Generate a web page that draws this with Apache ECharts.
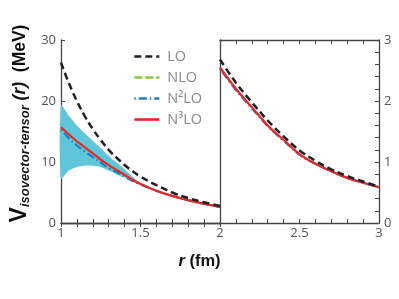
<!DOCTYPE html>
<html><head><meta charset="utf-8">
<script src="https://cdn.jsdelivr.net/npm/echarts@6/dist/echarts.min.js"></script>
<style>html,body{margin:0;padding:0;background:#fff}#c{width:399px;height:299px}</style>
</head><body><div id="c"></div>
<script>
// ---- data ----
const rLeft  = [1.0, 1.05, 1.1, 1.15, 1.2, 1.25, 1.3, 1.35, 1.4, 1.45, 1.5, 1.6, 1.7, 1.8, 1.9, 2.0];
const loLeft = [26.3, 22.9, 20.0, 17.5, 15.4, 13.6, 12.0, 10.7, 9.5, 8.5, 7.6, 6.2, 5.0, 4.1, 3.4, 2.8];
const nloLeft = [15.7, 14.5, 13.4, 12.4, 11.4, 10.4, 9.5, 8.7, 7.9, 7.1, 6.4, 5.3, 4.45, 3.75, 3.15, 2.65];
const n2loLeft = [15.3, 13.9, 12.7, 11.7, 10.8, 9.9, 9.0, 8.3, 7.6, 6.9, 6.35, 5.28, 4.43, 3.73, 3.13, 2.64];
const n3loLeft = [15.7, 14.5, 13.4, 12.4, 11.4, 10.4, 9.5, 8.7, 7.9, 7.1, 6.4, 5.3, 4.45, 3.75, 3.15, 2.65];
const rBand    = [1.0, 1.05, 1.1, 1.15, 1.2, 1.25, 1.3, 1.35, 1.4, 1.45, 1.5];
const bandLow  = [7.3, 8.6, 9.2, 9.4, 9.4, 9.2, 8.6, 8.0, 7.4, 6.9, 6.35];
const bandHigh = [19.3, 17.6, 16.0, 14.7, 13.5, 12.3, 11.0, 9.9, 8.8, 7.6, 6.5];
const rRight  = [2.0, 2.1, 2.2, 2.3, 2.4, 2.5, 2.6, 2.7, 2.8, 2.9, 3.0];
const loRight = [2.68, 2.3, 1.98, 1.68, 1.42, 1.19, 1.02, 0.88, 0.77, 0.68, 0.595];
const nloRight = [2.55, 2.2, 1.9, 1.6, 1.36, 1.13, 0.97, 0.85, 0.74, 0.66, 0.585];
const n2loRight = [2.53, 2.18, 1.88, 1.59, 1.35, 1.12, 0.97, 0.85, 0.74, 0.66, 0.585];
const n3loRight = [2.55, 2.2, 1.9, 1.6, 1.36, 1.13, 0.97, 0.85, 0.74, 0.66, 0.585];
const leftYTicks = [0, 10, 20, 30];
const rightYTicks = [0, 1, 2, 3];
const names = ['LO', 'NLO', 'N\u00b2LO', 'N\u00b3LO'];

const pair = (xs, ys) => xs.map((x, i) => [x, ys[i]]);
const AX = '#444', LAB = '#555', FONT = 'Open Sans';
const isHalf = v => Math.abs(v * 2 - Math.round(v * 2)) < 1e-6;
const isInt = v => Math.abs(v - Math.round(v)) < 1e-6;

const styles = {
  'LO': { color: '#222', type: [7, 4], width: 2.5 },
  'NLO': { color: '#8cc63f', type: [8, 3], width: 2.2 },
  'N\u00b2LO': { color: '#1a7fc8', type: [1.5, 3, 8, 3], width: 2.2 },
  'N\u00b3LO': { color: '#e8262b', type: 'solid', width: 2.2 }
};
function line(name, xi, yi, xs, ys, z) {
  const s = styles[name];
  return { name, type: 'line', xAxisIndex: xi, yAxisIndex: yi, data: pair(xs, ys),
    smooth: 0.4, symbol: 'none', z, color: s.color,
    lineStyle: { color: s.color, type: s.type, width: s.width } };
}

const chart = echarts.init(document.getElementById('c'), null, { renderer: 'canvas' });
chart.setOption({
  animation: false,
  backgroundColor: '#fff',
  textStyle: { fontFamily: FONT },
  grid: [
    { left: 61, top: 40, width: 159, height: 183 },
    { left: 220, top: 40, width: 159, height: 183 }
  ],
  xAxis: [
    { gridIndex: 0, type: 'value', min: 1, max: 2, interval: 0.1, position: 'bottom',
      axisLine: { lineStyle: { color: AX, width: 1.3 } },
      axisTick: { inside: true, length: 4, lineStyle: { color: AX } },
      axisLabel: { color: LAB, fontSize: 13, margin: 4, fontFamily: FONT,
        formatter: v => isHalf(v) ? String(+v.toFixed(1)) : '' },
      splitLine: { show: false } },
    { gridIndex: 0, type: 'value', min: 1, max: 2, interval: 0.1, position: 'top',
      axisLine: { lineStyle: { color: AX, width: 1.3 } },
      axisTick: { inside: true, length: 4, lineStyle: { color: AX } },
      axisLabel: { show: false }, splitLine: { show: false } },
    { gridIndex: 1, type: 'value', min: 2, max: 3, interval: 0.1, position: 'bottom',
      axisLine: { lineStyle: { color: AX, width: 1.3 } },
      axisTick: { inside: true, length: 4, lineStyle: { color: AX } },
      axisLabel: { color: LAB, fontSize: 13, margin: 4, fontFamily: FONT, showMinLabel: false,
        formatter: v => (isHalf(v) && v > 2.01) ? String(+v.toFixed(1)) : '' },
      splitLine: { show: false } },
    { gridIndex: 1, type: 'value', min: 2, max: 3, interval: 0.1, position: 'top',
      axisLine: { lineStyle: { color: AX, width: 1.3 } },
      axisTick: { inside: true, length: 4, lineStyle: { color: AX } },
      axisLabel: { show: false }, splitLine: { show: false } }
  ],
  yAxis: [
    { gridIndex: 0, type: 'value', min: leftYTicks[0], max: leftYTicks[leftYTicks.length - 1], interval: 10, position: 'left',
      axisLine: { show: true, lineStyle: { color: AX, width: 1.3 } },
      axisTick: { show: true, inside: true, length: 4, lineStyle: { color: AX } },
      axisLabel: { color: LAB, fontSize: 13, margin: 5, fontFamily: FONT },
      splitLine: { show: false },
      name: '{v|V}{s|isovector-tensor}{r| (r)}{m|  (MeV)}',
      nameLocation: 'middle', nameRotate: 90, nameGap: 28,
      nameTextStyle: { color: '#111', rich: {
        v: { fontSize: 23, fontWeight: 'bold', fontFamily: 'Liberation Sans', lineHeight: 26, padding: [0, 0, 0, 16] },
        s: { fontSize: 13, fontWeight: 'bold', fontStyle: 'italic', fontFamily: 'Liberation Sans', padding: [10, 0, 0, 0], lineHeight: 26 },
        r: { fontSize: 17.5, fontWeight: 'bold', fontStyle: 'italic', fontFamily: 'Liberation Sans', lineHeight: 26 },
        m: { fontSize: 17.5, fontWeight: 'bold', fontFamily: 'Liberation Sans', lineHeight: 26 }
      } } },
    { gridIndex: 0, type: 'value', min: 0, max: 30, position: 'right',
      axisLine: { show: true, lineStyle: { color: AX, width: 1.3 } },
      axisTick: { show: false }, axisLabel: { show: false }, splitLine: { show: false } },
    { gridIndex: 1, type: 'value', min: rightYTicks[0], max: rightYTicks[rightYTicks.length - 1], interval: 0.2, position: 'right',
      axisLine: { show: true, lineStyle: { color: AX, width: 1.3 } },
      axisTick: { show: true, inside: true, length: 4, lineStyle: { color: AX } },
      axisLabel: { color: LAB, fontSize: 13, margin: 5, fontFamily: FONT,
        formatter: v => isInt(v) ? String(Math.round(v)) : '' },
      splitLine: { show: false } }
  ],
  legend: {
    data: names, orient: 'vertical', left: 133, top: 49, padding: 0, itemGap: 6,
    itemWidth: 25, itemHeight: 14, itemStyle: { opacity: 0 },
    lineStyle: { width: 2.6 },
    textStyle: { color: '#8a8a8a', fontSize: 14.5, fontFamily: FONT, padding: [0, 0, 0, 3] }
  },
  graphic: [{
    type: 'text', left: 'center', top: 253,
    style: { text: '{i|r} (fm)', fill: '#111', font: 'bold 16.5px "Liberation Sans"',
      rich: { i: { fontStyle: 'italic', fontWeight: 'bold', fontSize: 16.5, fontFamily: 'Liberation Sans' } } }
  }],
  series: [
    { name: 'band', type: 'custom', xAxisIndex: 0, yAxisIndex: 0, z: 1, silent: true,
      data: [[rBand[0], bandHigh[0]]],
      renderItem: (params, api) => {
        const pts = rBand.map((r, i) => api.coord([r, bandHigh[i]]));
        for (let i = rBand.length - 1; i >= 0; i--) pts.push(api.coord([rBand[i], bandLow[i]]));
        return { type: 'polygon', shape: { points: pts, smooth: 0.25 },
          style: { fill: '#5fc6da', stroke: null } };
      } },
    line('NLO', 0, 0, rLeft, nloLeft, 2),
    line('N\u00b2LO', 0, 0, rLeft, n2loLeft, 3),
    line('N\u00b3LO', 0, 0, rLeft, n3loLeft, 4),
    line('LO', 0, 0, rLeft, loLeft, 5),
    line('NLO', 2, 2, rRight, nloRight, 2),
    line('N\u00b2LO', 2, 2, rRight, n2loRight, 3),
    line('N\u00b3LO', 2, 2, rRight, n3loRight, 4),
    line('LO', 2, 2, rRight, loRight, 5)
  ]
});
</script></body></html>
